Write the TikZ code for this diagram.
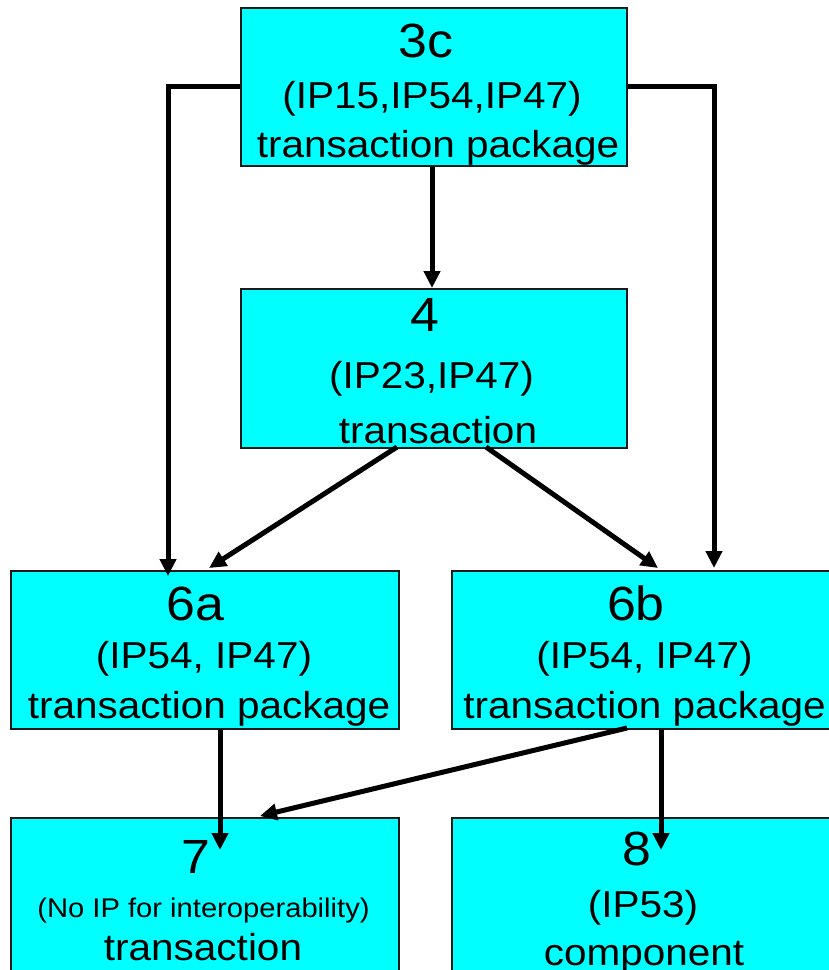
\documentclass[tikz,border=0pt]{standalone}
\usepackage{fontspec}
\setmainfont{Liberation Sans}[FakeStretch=1.08]
\usetikzlibrary{arrows.meta}
\definecolor{boxfill}{HTML}{00FFFF}
\definecolor{boxline}{HTML}{1A1A1A}

\begin{document}
\begin{tikzpicture}[x=1pt,y=-1pt,
  box/.style={draw=boxline, line width=1.6pt, fill=boxfill, inner sep=0pt,
              anchor=north west, minimum width=388pt, minimum height=158pt},
  numtxt/.style={font=\fontsize{48}{48}\selectfont, anchor=base, inner sep=0pt},
  maintxt/.style={font=\fontsize{37.5}{37.5}\selectfont, anchor=base, inner sep=0pt},
  smalltxt/.style={font=\fontsize{27}{27}\selectfont, anchor=base, inner sep=0pt},
  conn/.style={line width=5pt, draw=black, -{Triangle[length=17pt,width=16pt]}}]

\useasboundingbox (0,0) rectangle (829,970);

% boxes
\node[box, minimum width=386pt] (b3c) at (240,7) {};
\node[box, minimum width=386pt, minimum height=159pt] (b4) at (240,288) {};
\node[box] (b6a) at (10,570) {};
\node[box] (b6b) at (451,570) {};
\node[box, minimum height=170pt] (b7) at (10,817) {};
\node[box, minimum height=170pt] (b8) at (451,817) {};

% box texts
\node[numtxt]  (t3c-a) at (426,57)  {3c};
\node[maintxt] (t3c-b) at (432,108) {(IP15,IP54,IP47)};
\node[maintxt] (t3c-c) at (438,157) {transaction package};

\node[numtxt]  (t4-a) at (425,331) {4};
\node[maintxt] (t4-b) at (431.5,388) {(IP23,IP47)};
\node[maintxt] (t4-c) at (438,443) {transaction};

\node[numtxt]  (t6a-a) at (195.5,620) {6a};
\node[maintxt] (t6a-b) at (204,668) {(IP54, IP47)};
\node[maintxt] (t6a-c) at (209,718) {transaction package};

\node[numtxt]  (t6b-a) at (636,620) {6b};
\node[maintxt] (t6b-b) at (644.5,668) {(IP54, IP47)};
\node[maintxt] (t6b-c) at (644.5,718) {transaction package};

\node[numtxt]   (t7-a) at (196,873) {7};
\node[smalltxt] (t7-b) at (203.5,917) {(No IP for interoperability)};
\node[maintxt]  (t7-c) at (203,960) {transaction};

\node[numtxt]  (t8-a) at (637,865) {8};
\node[maintxt] (t8-b) at (643,917) {(IP53)};
\node[maintxt] (t8-c) at (644,965) {component};

% connector bends and free ends
\coordinate (lbend) at (168,86);
\coordinate (rbend) at (714,86);
\coordinate (in6a) at (168,576);
\coordinate (in6b) at (714,568);
\coordinate (from4l) at (397,447);
\coordinate (from4r) at (486,447);
\coordinate (to6a) at (209,568);
\coordinate (to6b) at (658,568);
\coordinate (in7) at (220,850);
\coordinate (in8) at (661,850);
\coordinate (from6b) at (627,728);
\coordinate (to7) at (260,816);

% connectors
\draw[conn] (b3c.south -| 432,0) -- (b4.north -| 432,0);
\draw[conn] (lbend -| b3c.west) -- (lbend) -- (in6a);
\draw[conn] (rbend -| b3c.east) -- (rbend) -- (in6b);
\draw[conn] (from4l) -- (to6a);
\draw[conn] (from4r) -- (to6b);
\draw[conn] (b6a.south -| in7) -- (in7);
\draw[conn] (from6b) -- (to7);
\draw[conn] (b6b.south -| in8) -- (in8);
\end{tikzpicture}
\end{document}
